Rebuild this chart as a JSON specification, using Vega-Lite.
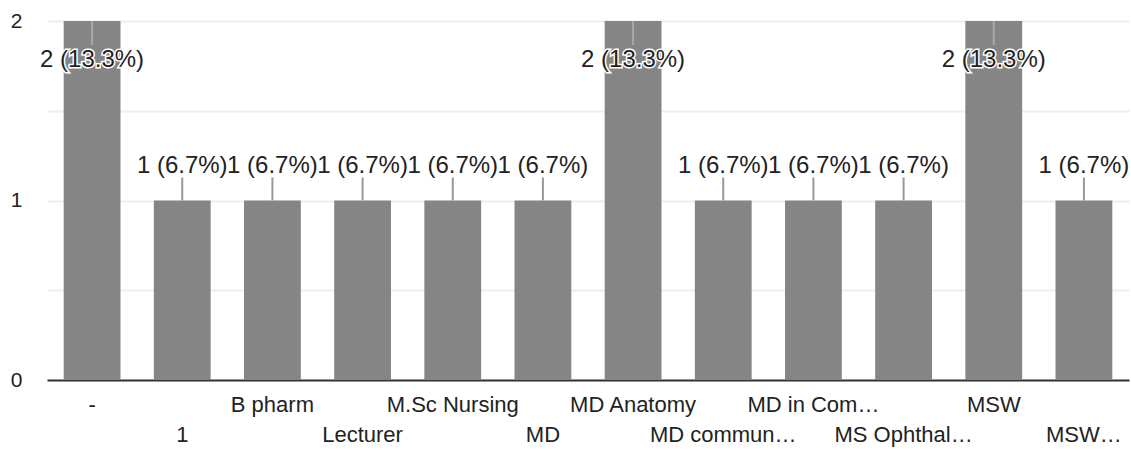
{
  "$schema": "https://vega.github.io/schema/vega-lite/v6.json",
  "width": 1082,
  "height": 359,
  "autosize": {"type": "none"},
  "padding": {"left": 47, "top": 21, "right": 2, "bottom": 70},
  "background": "white",
  "config": {
    "view": {"stroke": null},
    "font": "Liberation Sans"
  },
  "data": {
    "values": [
      {"answer": "-", "count": 2, "label": "2 (13.3%)"},
      {"answer": "1", "count": 1, "label": "1 (6.7%)"},
      {"answer": "B pharm", "count": 1, "label": "1 (6.7%)"},
      {"answer": "Lecturer", "count": 1, "label": "1 (6.7%)"},
      {"answer": "M.Sc Nursing", "count": 1, "label": "1 (6.7%)"},
      {"answer": "MD", "count": 1, "label": "1 (6.7%)"},
      {"answer": "MD Anatomy", "count": 2, "label": "2 (13.3%)"},
      {"answer": "MD commun…", "count": 1, "label": "1 (6.7%)"},
      {"answer": "MD in Com…", "count": 1, "label": "1 (6.7%)"},
      {"answer": "MS Ophthal…", "count": 1, "label": "1 (6.7%)"},
      {"answer": "MSW", "count": 2, "label": "2 (13.3%)"},
      {"answer": "MSW…", "count": 1, "label": "1 (6.7%)"}
    ]
  },
  "encoding": {
    "x": {
      "field": "answer",
      "type": "nominal",
      "sort": null,
      "scale": {"paddingInner": 0.37, "paddingOuter": 0.185},
      "axis": {
        "title": null,
        "labelAngle": 0,
        "ticks": false,
        "labelFontSize": 22,
        "labelColor": "#222222",
        "labelPadding": 14,
        "labelBaseline": "top",
        "labelLineHeight": 30,
        "labelLimit": 0,
        "labelOverlap": false,
        "domainColor": "#333333",
        "domainWidth": 2,
        "labelExpr": "indexof(['1','Lecturer','MD','MD commun…','MS Ophthal…','MSW…'], datum.value) >= 0 ? ['', datum.value] : datum.value"
      }
    },
    "y": {
      "field": "count",
      "type": "quantitative",
      "scale": {"domain": [0, 2], "nice": false},
      "axis": {
        "title": null,
        "values": [0, 0.5, 1, 1.5, 2],
        "labelExpr": "datum.value % 1 === 0 ? format(datum.value, 'd') : ''",
        "domain": false,
        "ticks": false,
        "labelFontSize": 21,
        "labelColor": "#222222",
        "labelPadding": 25,
        "gridColor": "#eeeeee",
        "gridWidth": 2
      }
    }
  },
  "layer": [
    {"mark": {"type": "bar", "color": "#858585"}},
    {
      "transform": [{"filter": "datum.count === 1"}],
      "mark": {"type": "rule", "color": "#999999", "strokeWidth": 2, "y2Offset": -23},
      "encoding": {"y2": {"field": "count"}}
    },
    {
      "transform": [{"filter": "datum.count === 2"}],
      "mark": {"type": "rule", "color": "#a8a8a8", "strokeWidth": 2, "y2Offset": 24},
      "encoding": {"y2": {"field": "count"}}
    },
    {
      "transform": [{"filter": "datum.count === 2"}],
      "mark": {"type": "text", "fontSize": 24, "dy": 39, "baseline": "middle", "stroke": "white", "strokeWidth": 3, "fill": "white"},
      "encoding": {"text": {"field": "label"}}
    },
    {
      "transform": [{"filter": "datum.count === 2"}],
      "mark": {"type": "text", "fontSize": 24, "dy": 39, "baseline": "middle", "color": "#222222"},
      "encoding": {"text": {"field": "label"}}
    },
    {
      "transform": [{"filter": "datum.count === 1"}],
      "mark": {"type": "text", "fontSize": 24, "dy": -35, "baseline": "middle", "color": "#222222"},
      "encoding": {"text": {"field": "label"}}
    }
  ]
}
